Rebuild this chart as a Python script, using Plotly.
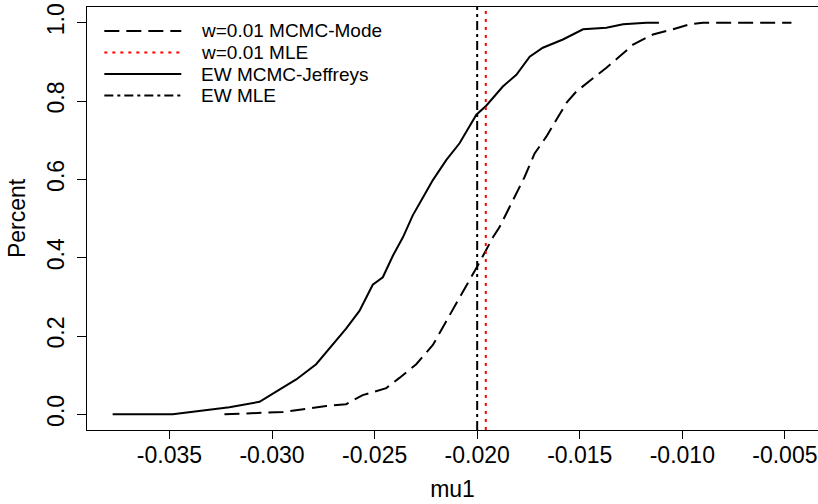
import plotly.graph_objects as go

# ---- data ----
ew_jeffreys_x = [-0.03777, -0.03484, -0.03208, -0.03061, -0.02964, -0.02882, -0.02785, -0.02720,
                 -0.02639, -0.02574, -0.02509, -0.02460, -0.02411, -0.02362, -0.02314, -0.02281,
                 -0.02216, -0.02151, -0.02086, -0.02004, -0.01956, -0.01875, -0.01809, -0.01744,
                 -0.01680, -0.01582, -0.01484, -0.01370, -0.01289, -0.01175, -0.01114]
ew_jeffreys_y = [0.000, 0.000, 0.018, 0.032, 0.063, 0.089, 0.128, 0.168,
                 0.219, 0.264, 0.331, 0.350, 0.405, 0.452, 0.508, 0.538,
                 0.598, 0.649, 0.692, 0.765, 0.788, 0.837, 0.867, 0.913,
                 0.936, 0.957, 0.983, 0.987, 0.996, 1.000, 1.000]

w001_mode_x = [-0.03232, -0.02948, -0.02736, -0.02639, -0.02558, -0.02443, -0.02379, -0.02297,
               -0.02216, -0.02151, -0.02086, -0.01997, -0.01923, -0.01891, -0.01826, -0.01769,
               -0.01720, -0.01663, -0.01614, -0.01565, -0.01517, -0.01452, -0.01370, -0.01305,
               -0.01240, -0.01143, -0.01045, -0.00964, -0.00899, -0.00468]
w001_mode_y = [0.000, 0.006, 0.021, 0.026, 0.049, 0.067, 0.093, 0.128,
               0.177, 0.239, 0.298, 0.380, 0.452, 0.478, 0.547, 0.606,
               0.666, 0.709, 0.752, 0.795, 0.824, 0.850, 0.885, 0.914,
               0.944, 0.970, 0.983, 0.996, 1.000, 1.000]

ew_mle = -0.02000
w001_mle = -0.01958

x_ticks = [-0.035, -0.030, -0.025, -0.020, -0.015, -0.010, -0.005]
x_tick_labels = ["-0.035", "-0.030", "-0.025", "-0.020", "-0.015", "-0.010", "-0.005"]
y_ticks = [0.0, 0.2, 0.4, 0.6, 0.8, 1.0]
y_tick_labels = ["0.0", "0.2", "0.4", "0.6", "0.8", "1.0"]

legend_labels = ["w=0.01 MCMC-Mode", "w=0.01 MLE", "EW MCMC-Jeffreys", "EW MLE"]

# ---- styles ----
FONT = "Liberation Sans, Arial, Helvetica, sans-serif"
DASH = "15px,7px"
DOT = "3px,5px"
DASHDOT = "9px,4px,3px,4px"

fig = go.Figure()

fig.add_trace(go.Scatter(x=w001_mode_x, y=w001_mode_y, mode="lines", name=legend_labels[0],
                         line=dict(color="black", width=2, dash=DASH), showlegend=False))
fig.add_trace(go.Scatter(x=ew_jeffreys_x, y=ew_jeffreys_y, mode="lines", name=legend_labels[2],
                         line=dict(color="black", width=2), showlegend=False))

# vertical reference lines (abline)
fig.add_shape(type="line", xref="x", yref="y domain", x0=ew_mle, x1=ew_mle, y0=0, y1=1,
              line=dict(color="black", width=2, dash=DASHDOT))
fig.add_shape(type="line", xref="x", yref="y domain", x0=w001_mle, x1=w001_mle, y0=0, y1=1,
              line=dict(color="#FF0000", width=2, dash=DOT))

# manual legend (R style, no box)
leg_styles = [dict(color="black", dash=DASH), dict(color="#FF0000", dash=DOT),
              dict(color="black", dash="solid"), dict(color="black", dash=DASHDOT)]
leg_rows = [0.9433, 0.8925, 0.8415, 0.7905]
for lab, st, yy in zip(legend_labels, leg_styles, leg_rows):
    fig.add_shape(type="line", xref="x domain", yref="y domain", x0=0.0237, x1=0.129, y0=yy, y1=yy,
                  line=dict(color=st["color"], width=2, dash=st["dash"]))
    fig.add_annotation(xref="x domain", yref="y domain", x=0.153, y=yy, text=lab, showarrow=False,
                       xanchor="left", yanchor="middle", font=dict(family=FONT, size=19, color="black"))

fig.update_layout(
    width=818, height=504,
    margin=dict(l=87, r=0, t=7, b=74),
    paper_bgcolor="white", plot_bgcolor="white",
    font=dict(family=FONT, size=23, color="black"),
    showlegend=False,
)
fig.update_xaxes(range=[-0.03902, -0.003386], tickvals=x_ticks, ticktext=x_tick_labels,
                 showgrid=False, zeroline=False, showline=True, mirror=True, linecolor="black", linewidth=1,
                 ticks="outside", ticklen=8, tickwidth=1, tickcolor="black", ticklabelstandoff=-4,
                 title=dict(text="mu1", standoff=14, font=dict(size=23)))
fig.update_yaxes(range=[-0.04, 1.04], tickvals=y_ticks, ticktext=y_tick_labels, tickangle=-90,
                 showgrid=False, zeroline=False, showline=True, mirror=False, linecolor="black", linewidth=1,
                 ticks="outside", ticklen=9, tickwidth=1, tickcolor="black", ticklabelstandoff=4,
                 title=dict(text="Percent", standoff=10, font=dict(size=23)))

fig.write_html("out.html")
